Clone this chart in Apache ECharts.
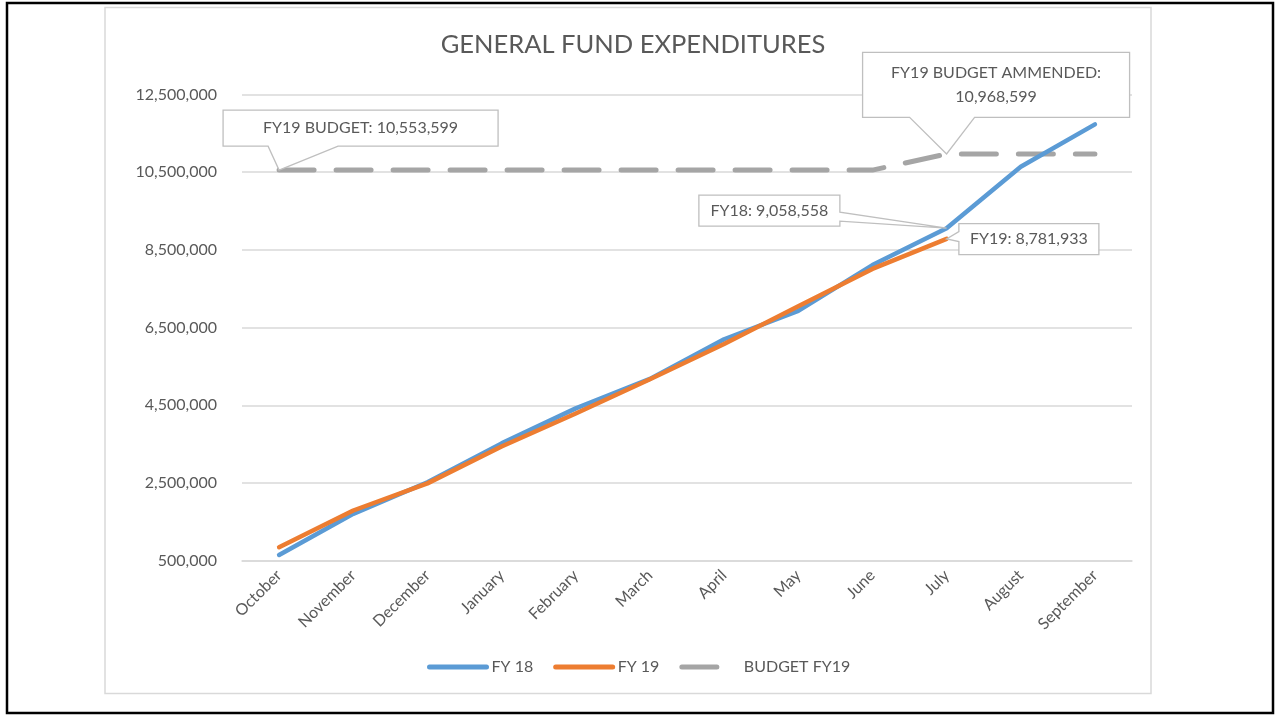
<!DOCTYPE html>
<html>
<head>
<meta charset="utf-8">
<title>General Fund Expenditures</title>
<script src="https://cdn.jsdelivr.net/npm/echarts@6/dist/echarts.min.js"></script>
<style>
  html, body { margin: 0; padding: 0; background: #fff; }
  #chart { width: 1276px; height: 715px; }
</style>
</head>
<body>
<div id="chart"></div>
<script>
// data
var months = ['October', 'November', 'December', 'January', 'February', 'March',
  'April', 'May', 'June', 'July', 'August', 'September'];
var fy18 = [647000, 1707000, 2520000, 3520000, 4420000, 5180000,
  6200000, 6930000, 8110000, 9058558, 10640000, 11730000];
var fy19 = [846000, 1792000, 2490000, 3440000, 4290000, 5170000,
  6080000, 7050000, 8010000, 8781933];
var budget = [10553599, 10553599, 10553599, 10553599, 10553599, 10553599,
  10553599, 10553599, 10553599, 10968599, 10968599, 10968599];
var yTicks = [500000, 2500000, 4500000, 6500000, 8500000, 10500000, 12500000];

var chart = echarts.init(document.getElementById('chart'));
var txt = '#595959';
var font = 'Lato, "Open Sans", sans-serif';

function fmt(v) {
  return v.toString().replace(/\B(?=(\d{3})+(?!\d))/g, ',');
}

var option = {
  animation: false,
  textStyle: { fontFamily: font },
  title: {
    text: 'GENERAL FUND EXPENDITURES',
    left: 628,
    textAlign: 'center',
    top: 27,
    textStyle: { fontSize: 25.5, fontWeight: 'normal', color: txt, fontFamily: font }
  },
  legend: {
    top: 654,
    left: 422,
    itemWidth: 57,
    itemHeight: 12,
    itemGap: 20,
    textStyle: { fontSize: 16, color: txt, fontFamily: font },
    itemStyle: { opacity: 0 },
    lineStyle: { width: 5, cap: 'round' },
    data: ['FY 18', 'FY 19', 'BUDGET FY19']
  },
  grid: {
    left: 242, right: 144, top: 94.5, bottom: 154.3,
    containLabel: false, outerBoundsMode: 'none'
  },
  xAxis: {
    type: 'category',
    data: months,
    boundaryGap: true,
    axisLine: { show: true, lineStyle: { color: '#D9D9D9', width: 1.5 } },
    axisTick: { show: false },
    axisLabel: { rotate: 45, color: txt, fontSize: 16, margin: 12, fontFamily: font, interval: 0 }
  },
  yAxis: {
    type: 'value',
    min: yTicks[0],
    max: yTicks[yTicks.length - 1],
    interval: yTicks[1] - yTicks[0],
    axisLine: { show: false },
    axisTick: { show: false },
    axisLabel: { color: txt, fontSize: 16, margin: 25, fontFamily: font, formatter: fmt },
    splitLine: { lineStyle: { color: '#D9D9D9', width: 1.5 } }
  },
  series: [
    {
      name: 'FY 18', type: 'line', data: fy18, symbol: 'none',
      lineStyle: { color: '#5B9BD5', width: 4.5, cap: 'round', join: 'round' },
      itemStyle: { color: '#5B9BD5' }, z: 3
    },
    {
      name: 'FY 19', type: 'line', data: fy19, symbol: 'none',
      lineStyle: { color: '#ED7D31', width: 4.5, cap: 'round', join: 'round' },
      itemStyle: { color: '#ED7D31' }, z: 4
    },
    {
      name: 'BUDGET FY19', type: 'line', data: budget, symbol: 'none',
      lineStyle: { color: '#A5A5A5', width: 5, type: [35, 22], cap: 'round' },
      itemStyle: { color: '#A5A5A5' }, z: 2
    }
  ]
};
chart.setOption(option);

// callouts: box placed relative to the data point, wedge on one edge
var callouts = [
  { s: 2, i: 0, text: 'FY19 BUDGET: ' + fmt(budget[0]), dx: -56, dy: -60, w: 275, h: 36, side: 'bottom', a: 45, b: 115 },
  { s: 2, i: 9, text: 'FY19 BUDGET AMMENDED:\n' + fmt(budget[9]), dx: -84, dy: -101.6, w: 267, h: 65, side: 'bottom', a: 47, b: 112 },
  { s: 0, i: 9, text: 'FY18: ' + fmt(fy18[9]), dx: -247.7, dy: -33, w: 141, h: 31, side: 'right', a: 17, b: 26 },
  { s: 1, i: 9, text: 'FY19: ' + fmt(fy19[9]), dx: 12.3, dy: -15.3, w: 140, h: 31, side: 'left', a: 8, b: 18 }
];

function drawCallouts() {
  var els = [
    { type: 'rect', shape: { x: 7, y: 3, width: 1266, height: 710 }, style: { fill: 'none', stroke: '#000', lineWidth: 2.5 }, silent: true },
    { type: 'rect', shape: { x: 105, y: 7.5, width: 1046, height: 686 }, style: { fill: 'none', stroke: '#D9D9D9', lineWidth: 1.5 }, silent: true }
  ];
  callouts.forEach(function (c) {
    var vals = option.series[c.s].data;
    var p = chart.convertToPixel({ seriesIndex: c.s }, [c.i, vals[c.i]]);
    var x0 = p[0] + c.dx, y0 = p[1] + c.dy, x1 = x0 + c.w, y1 = y0 + c.h;
    var pts;
    if (c.side === 'bottom') {
      pts = [[x0, y0], [x1, y0], [x1, y1], [x0 + c.b, y1], p, [x0 + c.a, y1], [x0, y1]];
    } else if (c.side === 'right') {
      pts = [[x0, y0], [x1, y0], [x1, y0 + c.a], p, [x1, y0 + c.b], [x1, y1], [x0, y1]];
    } else {
      pts = [[x0, y0], [x1, y0], [x1, y1], [x0, y1], [x0, y0 + c.b], p, [x0, y0 + c.a]];
    }
    els.push({
      type: 'polygon', z: 100, silent: true,
      shape: { points: pts },
      style: { fill: '#fff', stroke: '#BFBFBF', lineWidth: 1.3 }
    });
    els.push({
      type: 'text', z: 101, silent: true,
      x: (x0 + x1) / 2, y: (y0 + y1) / 2,
      style: {
        text: c.text, fill: txt, fontSize: 16, fontFamily: font,
        align: 'center', verticalAlign: 'middle', lineHeight: 24
      }
    });
  });
  chart.setOption({ graphic: els });
}
drawCallouts();
</script>
</body>
</html>
